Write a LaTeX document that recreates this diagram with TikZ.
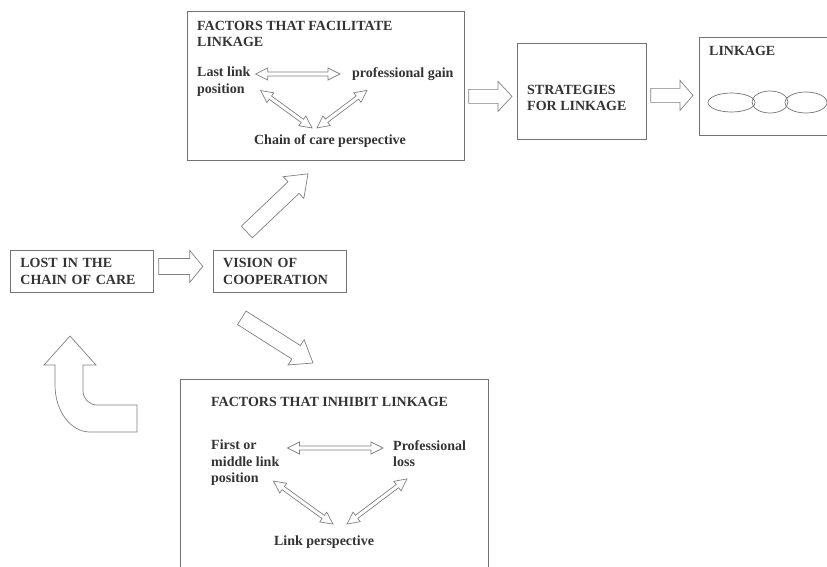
\documentclass[tikz,border=0pt]{standalone}
\usepackage{fontspec}
\setmainfont{Liberation Serif}
\usepackage{tikz}
\usetikzlibrary{positioning, calc, shapes.geometric}

\newcommand\blockarrow[5]{%
  \coordinate (ba-a) at (#1);
  \coordinate (ba-b) at (#2);
  \coordinate (ba-n) at ($(ba-b)!#5!(ba-a)$);
  \draw[hollow] ($(ba-a)!#3!90:(ba-b)$) -- ($(ba-n)!#3!-90:(ba-a)$) -- ($(ba-n)!#4!-90:(ba-a)$) -- (ba-b)
    -- ($(ba-n)!#4!90:(ba-a)$) -- ($(ba-n)!#3!90:(ba-a)$) -- ($(ba-a)!#3!-90:(ba-b)$) -- cycle;}

\newcommand\twowayarrow[2]{%
  \coordinate (tw-a) at (#1);
  \coordinate (tw-b) at (#2);
  \coordinate (tw-m) at ($(tw-a)!12pt!(tw-b)$);
  \coordinate (tw-n) at ($(tw-b)!12pt!(tw-a)$);
  \draw[hollow] (tw-a) -- ($(tw-m)!6pt!90:(tw-b)$) -- ($(tw-m)!2pt!90:(tw-b)$) -- ($(tw-n)!2pt!-90:(tw-a)$)
    -- ($(tw-n)!6pt!-90:(tw-a)$) -- (tw-b) -- ($(tw-n)!6pt!90:(tw-a)$) -- ($(tw-n)!2pt!90:(tw-a)$)
    -- ($(tw-m)!2pt!-90:(tw-b)$) -- ($(tw-m)!6pt!-90:(tw-b)$) -- cycle;}

\begin{document}
\begin{tikzpicture}[x=1pt, y=1pt,
    font=\fontsize{14}{16.5}\selectfont\bfseries,
    box/.style={draw=black!55, line width=0.8pt, inner sep=0pt, anchor=north west},
    txt/.style={inner sep=0pt, align=left, text=black!80, anchor=north west},
    hollow/.style={draw=black!50, line width=0.7pt, fill=white, line join=miter},
    ring/.style={draw=black!55, ellipse, inner sep=0pt, line width=0.7pt}
  ]
  \useasboundingbox (0,0) rectangle (827,-567);

  \node[box, minimum width=277pt, minimum height=149pt] (facil) at (187,-11) {};
  \node[box, minimum width=129pt, minimum height=96pt] (strat) at (517,-43) {};
  \node[box, minimum width=140pt, minimum height=98pt] (linkage) at (699,-37) {};
  \node[box, minimum width=143pt, minimum height=42pt, text width=123pt, inner xsep=10pt,
        align=left, text=black!80] (lost) at (10,-250) {LOST IN THE\\CHAIN OF CARE};
  \node[box, minimum width=133pt, minimum height=42pt, text width=113pt, inner xsep=10pt,
        align=left, text=black!80, right=59pt of lost] (vision) {VISION OF\\COOPERATION};
  \node[box, minimum width=308pt, minimum height=200pt] (inhib) at (180,-379) {};

  \node[txt, below right=9.6pt and 10pt of facil.north west] (facilhead) {FACTORS THAT FACILITATE\\LINKAGE};
  \node[txt] (lastlink) at (197,-67) {Last link\\position};
  \node[txt] (profgain) at (352,-67) {professional gain};
  \node[txt, anchor=base] (chainpersp) at (330,-144) {Chain of care perspective};
  \twowayarrow{[shift={(5,-7)}]lastlink.north east}{[shift={(-12,-7)}]profgain.north west}
  \twowayarrow{[shift={(10,6)}]lastlink.south east}{[shift={(-18,6)}]chainpersp.north}
  \twowayarrow{[shift={(15,-10)}]profgain.south west}{[shift={(-13,6)}]chainpersp.north}

  \node[txt, below right=42pt and 10pt of strat.north west] (strathead) {STRATEGIES\\FOR LINKAGE};
  \node[txt, below right=9pt and 10pt of linkage.north west] (linkhead) {LINKAGE};
  \node[ring, minimum width=47pt, minimum height=19pt] (ring1) at (731.5,-102.5) {};
  \node[ring, minimum width=36pt, minimum height=22pt] (ring2) at (770,-102) {};
  \node[ring, minimum width=42pt, minimum height=21pt] (ring3) at (806,-102.5) {};

  \node[txt, below right=18pt and 31pt of inhib.north west] (inhibhead) {FACTORS THAT INHIBIT LINKAGE};
  \node[txt] (firstmid) at (211,-440) {First or\\middle link\\position};
  \node[txt] (profloss) at (393,-440) {Professional\\loss};
  \node[txt, anchor=base] (linkpersp) at (324,-545) {Link perspective};
  \twowayarrow{[shift={(8,-8)}]firstmid.north east}{[shift={(-10,-8)}]profloss.north west}
  \twowayarrow{[shift={(-6,5)}]firstmid.south east}{[shift={(9,11)}]linkpersp.north}
  \twowayarrow{[shift={(14,-12)}]profloss.south west}{[shift={(23,11)}]linkpersp.north}

  \blockarrow{[shift={(5,5)}]lost.east}{[shift={(-10,5)}]vision.west}{8pt}{16pt}{13pt}
  \blockarrow{[shift={(34,18)}]vision.north west}{[shift={(121,-13)}]facil.south west}{8pt}{15pt}{20pt}
  \blockarrow{[shift={(29,-25)}]vision.south west}{[shift={(133,16)}]inhib.north west}{8pt}{15pt}{20pt}
  \blockarrow{[shift={(4,-10.5)}]facil.east}{[shift={(-5,-5)}]strat.west}{7pt}{15pt}{14pt}
  \blockarrow{[shift={(4,-4)}]strat.east}{[shift={(-6,-9)}]linkage.west}{7pt}{15pt}{13pt}

  \draw[hollow] (55,-365) -- (55,-385) arc[start angle=180, end angle=270, x radius=35, y radius=47]
    -- (137,-432) -- (137,-405) -- (97,-405) arc[start angle=270, end angle=180, radius=14]
    -- (83,-365) -- (96,-365) -- (70,-336) -- (44,-365) -- cycle;
\end{tikzpicture}
\end{document}
